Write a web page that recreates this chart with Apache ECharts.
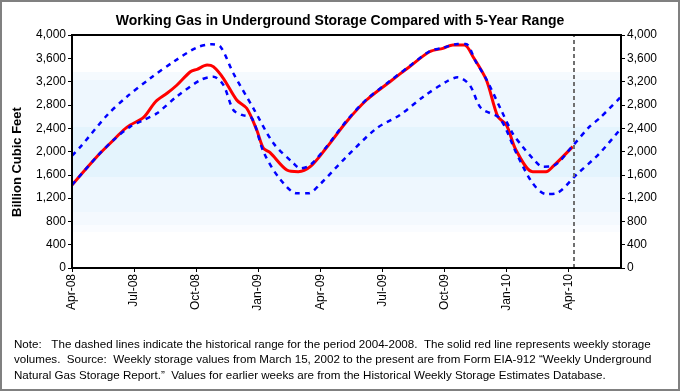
<!DOCTYPE html>
<html>
<head>
<meta charset="utf-8">
<script src="https://cdn.jsdelivr.net/npm/echarts@6/dist/echarts.min.js"></script>
<style>
html,body{margin:0;padding:0;background:#fff;}
#chart{width:680px;height:391px;}
</style>
</head>
<body>
<div id="chart"></div>
<script>
// ---- data (x = weeks since start of Apr-2008) ----
var tickLabels = ['Apr-08','Jul-08','Oct-08','Jan-09','Apr-09','Jul-09','Oct-09','Jan-10','Apr-10'];

var redWeeks  = [0, 5.2, 8.7, 10.8, 12.2, 15, 17.5, 19.9, 22, 24.8, 26.2, 28.3, 29.6, 31.7, 34.5, 36.6, 38.7, 40.1, 41.5, 45, 47.4, 49.9, 53.2, 57.5, 61.7, 66.6, 70.7, 74.9, 77.7, 79.8, 82.2, 84, 86.8, 89.2, 91, 93, 96.5, 99.3, 100.7, 104.9];
var redValues = [1425, 1911, 2197, 2369, 2455, 2587, 2855, 2999, 3142, 3370, 3411, 3485, 3456, 3257, 2884, 2742, 2369, 2055, 1980, 1682, 1653, 1739, 2055, 2512, 2884, 3198, 3456, 3713, 3771, 3828, 3828, 3627, 3227, 2597, 2455, 2026, 1653, 1653, 1739, 2083];

var upperWeeks  = [0, 1.8, 7.4, 11.5, 16.4, 21.3, 26.2, 29.3, 31.1, 33.8, 38, 42.2, 46.4, 47.8, 49.9, 53.2, 57.5, 61.7, 66.6, 70.7, 74.9, 77.7, 80.8, 82.5, 84.6, 86.8, 89.9, 92.3, 94.4, 96.5, 98.6, 100.7, 104.9, 108.4, 110.5, 115];
var upperValues = [1928, 2083, 2627, 2941, 3257, 3542, 3788, 3840, 3800, 3343, 2742, 2141, 1798, 1711, 1768, 2070, 2525, 2895, 3210, 3465, 3720, 3780, 3845, 3845, 3540, 3240, 2712, 2312, 2083, 1883, 1739, 1750, 2100, 2426, 2570, 2941];

var lowerWeeks  = [0, 5.2, 8.7, 12.2, 15, 17.8, 21.9, 26.9, 29.6, 31.7, 33.8, 35.6, 37.7, 40.1, 43.2, 47.1, 49.5, 51.8, 57.5, 63.8, 68.7, 73.6, 78.4, 80.8, 83.3, 85.7, 89.6, 93.1, 96.5, 99.3, 101.4, 105.6, 110.5, 115];
var lowerValues = [1425, 1911, 2197, 2427, 2541, 2656, 2941, 3227, 3284, 3142, 2712, 2627, 2570, 1997, 1567, 1282, 1282, 1425, 1911, 2398, 2627, 2941, 3198, 3273, 3142, 2742, 2570, 1968, 1454, 1270, 1282, 1597, 1968, 2398];

var currentWeek = 105;

var bandEdges  = [3365, 3227, 2420, 1562, 961, 738, 618];
var bandColors = ['#F5FAFE', '#EEF7FE', '#E4F4FD', '#EEF7FE', '#F4F9FE', '#FAFCFF'];

var noteLines = [
  'Note:   The dashed lines indicate the historical range for the period 2004-2008.  The solid red line represents weekly storage',
  'volumes.  Source:  Weekly storage values from March 15, 2002 to the present are from Form EIA-912 \u201CWeekly Underground',
  'Natural Gas Storage Report.\u201D  Values for earlier weeks are from the Historical Weekly Storage Estimates Database.'
];

function pairs(xs, ys){ return xs.map(function(x,i){ return [x, ys[i]]; }); }

var bands = [];
for (var i = 0; i < bandColors.length; i++) {
  bands.push([{ yAxis: bandEdges[i], itemStyle: { color: bandColors[i] } }, { yAxis: bandEdges[i+1] }]);
}

var FONT = '"Liberation Sans", Arial, sans-serif';
function fmt(v){ return v.toLocaleString('en-US'); }

var chart = echarts.init(document.getElementById('chart'), null, {renderer:'canvas'});
chart.setOption({
  animation: false,
  backgroundColor: '#fff',
  title: {
    text: 'Working Gas in Underground Storage Compared with 5-Year Range',
    left: 'center', top: 9,
    textStyle: { fontFamily: FONT, fontSize: 14, fontWeight: 'bold', color: '#000' }
  },
  grid: { left: 72, right: 59, top: 35, bottom: 123, show: true, z: 10, borderColor: '#000', borderWidth: 2, backgroundColor: 'transparent' },
  xAxis: {
    type: 'value', min: 0, max: 115, interval: 13, z: 10,
    axisLine: { lineStyle: { color: '#000', width: 2 } },
    axisTick: { length: 4, lineStyle: { color: '#000' } },
    splitLine: { show: false },
    axisLabel: {
      rotate: 90, fontFamily: FONT, fontSize: 12, color: '#000', margin: 6, showMaxLabel: false,
      formatter: function(v){ var k = Math.round(v/13); return (Math.abs(v - k*13) < 1e-6 && tickLabels[k]) ? tickLabels[k] : ''; }
    }
  },
  yAxis: [
    { type: 'value', min: 0, max: 4000, interval: 400, position: 'left', z: 10,
      axisLine: { show: true, lineStyle: { color: '#000', width: 2 } },
      axisTick: { show: true, length: 4, lineStyle: { color: '#000' } },
      splitLine: { show: false },
      axisLabel: { fontFamily: FONT, fontSize: 12, color: '#000', margin: 6, formatter: fmt } },
    { type: 'value', min: 0, max: 4000, interval: 400, position: 'right', z: 10,
      axisLine: { show: true, lineStyle: { color: '#000', width: 2 } },
      axisTick: { show: true, length: 4, lineStyle: { color: '#000' } },
      splitLine: { show: false },
      axisLabel: { fontFamily: FONT, fontSize: 12, color: '#000', margin: 6, formatter: fmt } }
  ],
  graphic: [
    { type: 'rect', shape: { x: 1, y: 1, width: 678, height: 389 }, style: { fill: 'none', stroke: '#808080', lineWidth: 2 }, silent: true },
    { type: 'text', x: 17, y: 162, rotation: Math.PI/2,
      style: { text: 'Billion Cubic Feet', fontFamily: FONT, fontSize: 13, fontWeight: 'bold', fill: '#000', align: 'center', verticalAlign: 'middle' } },
    { type: 'text', left: 14, top: 337,
      style: { text: noteLines.join('\n'), fontFamily: FONT, fontSize: 11.6, lineHeight: 15.5, fill: '#000' } }
  ],
  series: [
    { name: 'bands', type: 'line', data: [], silent: true, z: 1,
      markArea: { silent: true, data: bands } },
    { name: 'Storage', type: 'line', data: pairs(redWeeks, redValues), smooth: 0.3, showSymbol: false, z: 3,
      lineStyle: { color: '#FF0000', width: 3 },
      markLine: { silent: true, symbol: ['none','none'], label: { show: false },
        lineStyle: { color: '#707070', type: [4,3], width: 2 },
        data: [{ xAxis: currentWeek }] } },
    { name: 'Upper', type: 'line', data: pairs(upperWeeks, upperValues), smooth: 0.3, showSymbol: false, z: 4,
      lineStyle: { color: '#0000FF', width: 2.5, type: [5,5] } },
    { name: 'Lower', type: 'line', data: pairs(lowerWeeks, lowerValues), smooth: 0.3, showSymbol: false, z: 4,
      lineStyle: { color: '#0000FF', width: 2.5, type: [5,5] } }
  ]
});
</script>
</body>
</html>
